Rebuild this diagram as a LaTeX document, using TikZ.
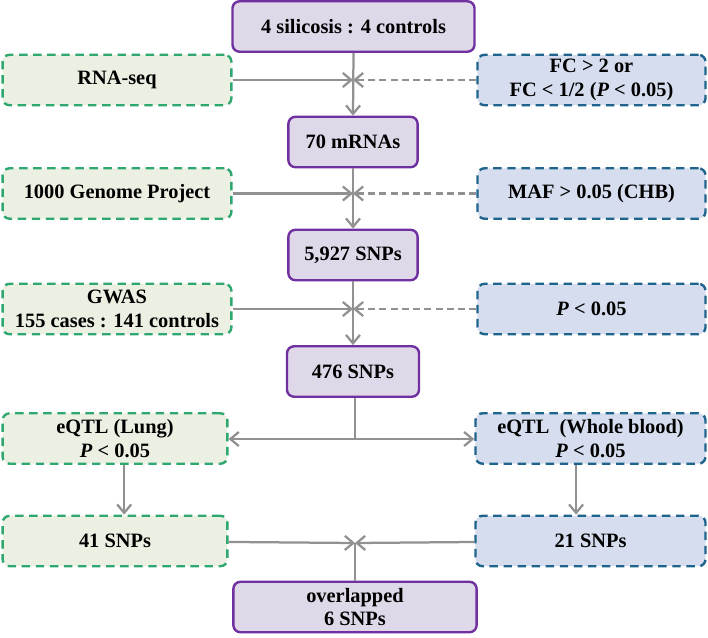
\documentclass[tikz,border=0pt]{standalone}
\usepackage{fontspec}
\setmainfont{Liberation Serif}
\usepackage{tikz}
\usetikzlibrary{positioning,%
  arrows.meta,%
  calc}

\definecolor{purpleline}{RGB}{112,48,160}
\definecolor{purplefill}{RGB}{223,216,233}
\definecolor{greenline}{RGB}{46,168,110}
\definecolor{greenfill}{RGB}{236,240,227}
\definecolor{blueline}{RGB}{31,100,140}
\definecolor{bluefill}{RGB}{214,221,238}
\definecolor{linkgray}{RGB}{145,145,145}

\begin{document}
\begin{tikzpicture}[x=0.025cm,y=-0.025cm,
    box/.style={rounded corners=5pt,line width=1.7pt,align=center,inner sep=0pt,
      minimum height=1.26cm,font=\fontsize{14.5}{17}\selectfont\bfseries},
    mainbox/.style={box,draw=purpleline,fill=purplefill},
    srcbox/.style={box,draw=greenline,fill=greenfill,dash pattern=on 6pt off 4pt},
    filtbox/.style={box,draw=blueline,fill=bluefill,dash pattern=on 6pt off 4pt},
    link/.style={draw=linkgray,line width=1.6pt},
    arr/.style={link,-{Straight Barb[length=6pt,width=10pt,line width=1.6pt]}},
    darr/.style={arr,dash pattern=on 5pt off 3pt}]
            \path[use as bounding box,fill=white] (0,0) rectangle (708,637);

            % main column
            \node[mainbox,minimum width=6.05cm] (start) at (353.5,26.5) {4 silicosis : 4 controls};
            \node[mainbox,minimum width=3.23cm] (mrna) at (353,142) {70 mRNAs};
            \node[mainbox,minimum width=3.23cm] (snpa) at (353,255) {5,927 SNPs};
            \node[mainbox,minimum width=3.3cm] (snpb) at (353,371.5) {476 SNPs};
            \node[mainbox,minimum width=6.08cm] (overlap) at (355,607) {overlapped\\6 SNPs};

            % data sources
            \node[srcbox,minimum width=5.72cm] (rnaseq) at (117,80) {RNA-seq};
            \node[srcbox,minimum width=5.72cm] (genome) at (117,193.5) {1000 Genome Project};
            \node[srcbox,minimum width=5.72cm] (gwas) at (117,309) {GWAS\\155 cases : 141 controls};
            \node[srcbox,minimum width=5.62cm] (eqtll) at (115,438.5) {eQTL (Lung)\\\textit{P} < 0.05};
            \node[srcbox,minimum width=5.62cm] (snpl) at (115,541) {41 SNPs};

            % filters
            \node[filtbox,minimum width=5.7cm] (fc) at (591.5,80) {FC > 2 or\\FC < 1/2 (\textit{P} < 0.05)};
            \node[filtbox,minimum width=5.7cm] (maf) at (591.5,193.5) {MAF > 0.05 (CHB)};
            \node[filtbox,minimum width=5.7cm] (pval) at (591.5,309) {\textit{P} < 0.05};
            \node[filtbox,minimum width=5.75cm] (eqtlb) at (590.5,438.5) {eQTL~ (Whole blood)\\\textit{P} < 0.05};
            \node[filtbox,minimum width=5.75cm] (snpr) at (590.5,541) {21 SNPs};

            \coordinate (ja) at (353,80);
            \coordinate (jb) at (353,193.5);
            \coordinate (jc) at (353,309);
            \coordinate (split) at (355,439);
            \coordinate (jd) at (355,543);

            \draw[arr] (start.south) -- (mrna.north);
            \draw[arr] (rnaseq) -- (ja);
            \draw[darr] (fc) -- (ja);

            \draw[arr] (mrna.south) -- (snpa.north);
            \draw[arr] (genome) -- (jb);
            \draw[darr] (maf) -- (jb);

            \draw[arr] (snpa.south) -- (snpb.north);
            \draw[arr] (gwas) -- (jc);
            \draw[darr] (pval) -- (jc);

            \draw[link] (snpb.south -| split) -- (split);
            \draw[arr] (split) -- (eqtll.east |- split);
            \draw[arr] (split) -- (eqtlb.west |- split);

            \draw[arr] ([xshift=0.23cm]eqtll.south) -- ([xshift=0.23cm]snpl.north);
            \draw[arr] ([xshift=-0.36cm]eqtlb.south) -- ([xshift=-0.36cm]snpr.north);

            \draw[link] (overlap.north) -- (jd);
            \draw[arr] (snpl) -- (jd);
            \draw[arr] (snpr) -- (jd);
        \end{tikzpicture}
\end{document}
